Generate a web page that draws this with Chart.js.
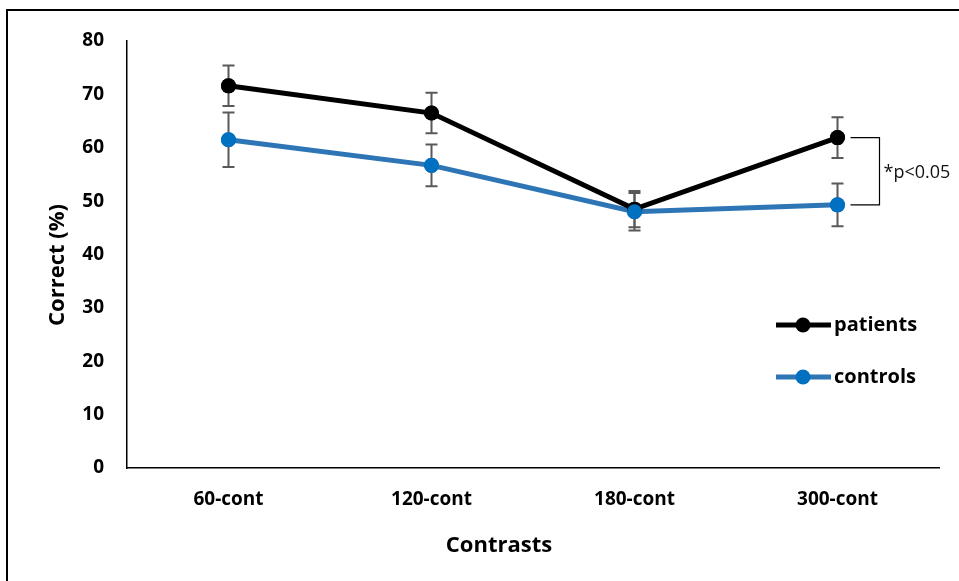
<!DOCTYPE html>
<html>
<head>
<meta charset="utf-8">
<script src="https://cdn.jsdelivr.net/npm/chart.js@4"></script>
<style>
  html, body { margin: 0; padding: 0; background: #fff; }
  #wrap { position: relative; width: 959px; height: 581px; overflow: hidden; }
  #frame { position: absolute; left: 6px; top: 9px; width: 1000px; height: 700px; border-left: 2px solid #000; border-top: 2px solid #000; }
  canvas { position: absolute; left: 0; top: 0; }
</style>
</head>
<body>
<div id="wrap">
  <div id="frame"></div>
  <canvas id="c" width="959" height="581"></canvas>
</div>
<script>
var categories = ['60-cont', '120-cont', '180-cont', '300-cont'];
var patients = [71.6, 66.5, 48.5, 61.9];
var patientsErr = [3.8, 3.8, 3.4, 3.8];
var controls = [61.5, 56.7, 48.0, 49.3];
var controlsErr = [5.1, 3.9, 3.5, 4.0];
var yTicks = [0, 10, 20, 30, 40, 50, 60, 70, 80];
var xTitle = 'Contrasts';
var yTitle = 'Correct (%)';
var sigLabel = '*p<0.05';

var FONT = '"Open Sans", sans-serif';

// error bars, significance bracket, legend, axis titles
var extras = {
  id: 'extras',
  afterDatasetsDraw: function (chart) {
    var ctx = chart.ctx, x = chart.scales.x, y = chart.scales.y;
    ctx.save();
    ctx.strokeStyle = '#595959';
    ctx.lineWidth = 2;
    [[patients, patientsErr], [controls, controlsErr]].forEach(function (s) {
      s[0].forEach(function (v, i) {
        var px = x.getPixelForValue(i);
        var t = y.getPixelForValue(v + s[1][i]), b = y.getPixelForValue(v - s[1][i]);
        ctx.beginPath();
        ctx.moveTo(px, t); ctx.lineTo(px, b);
        ctx.moveTo(px - 6, t); ctx.lineTo(px + 6, t);
        ctx.moveTo(px - 6, b); ctx.lineTo(px + 6, b);
        ctx.stroke();
      });
    });
    // points on top of the error bars
    chart.data.datasets.forEach(function (ds, di) {
      chart.getDatasetMeta(di).data.forEach(function (p) {
        ctx.beginPath();
        ctx.fillStyle = ds.pointBackgroundColor;
        ctx.arc(p.x, p.y, 7.5, 0, Math.PI * 2);
        ctx.fill();
      });
    });

    var last = categories.length - 1;
    var bx = x.getPixelForValue(last);
    var y1 = y.getPixelForValue(patients[last]), y2 = y.getPixelForValue(controls[last]);
    ctx.strokeStyle = '#000';
    ctx.lineWidth = 1.2;
    ctx.beginPath();
    ctx.moveTo(bx + 13, y1); ctx.lineTo(bx + 42, y1); ctx.lineTo(bx + 42, y2); ctx.lineTo(bx + 13, y2);
    ctx.stroke();
    ctx.fillStyle = '#111';
    ctx.font = '18px ' + FONT;
    ctx.textAlign = 'left';
    ctx.textBaseline = 'middle';
    ctx.fillText(sigLabel, bx + 46, (y1 + y2) / 2 + 2);

    // legend
    var lx = 776, ly = [325, 377];
    chart.data.datasets.forEach(function (ds, di) {
      ctx.strokeStyle = ds.borderColor;
      ctx.lineWidth = 5;
      ctx.beginPath();
      ctx.moveTo(lx, ly[di]); ctx.lineTo(lx + 55, ly[di]);
      ctx.stroke();
      ctx.fillStyle = ds.pointBackgroundColor;
      ctx.beginPath();
      ctx.arc(lx + 27, ly[di], 7.5, 0, Math.PI * 2);
      ctx.fill();
      ctx.fillStyle = '#000';
      ctx.font = 'bold 20px ' + FONT;
      ctx.fillText(ds.label, lx + 58, ly[di]);
    });

    // axis titles
    ctx.fillStyle = '#000';
    ctx.font = 'bold 22px ' + FONT;
    ctx.textAlign = 'center';
    ctx.fillText(xTitle, 499, 546);
    ctx.translate(58, 265);
    ctx.rotate(-Math.PI / 2);
    ctx.fillText(yTitle, 0, 0);
    ctx.restore();
  }
};

new Chart(document.getElementById('c'), {
  type: 'line',
  data: {
    labels: categories,
    datasets: [
      { label: 'patients', data: patients, borderColor: '#000000', pointBackgroundColor: '#000000', pointBorderWidth: 0, borderWidth: 5, pointRadius: 7.5 },
      { label: 'controls', data: controls, borderColor: '#2E75B6', pointBackgroundColor: '#0070C0', pointBorderWidth: 0, borderWidth: 5, pointRadius: 7.5 }
    ]
  },
  options: {
    responsive: false,
    animation: false,
    layout: { padding: { left: 0, top: 41, right: 20, bottom: 20 } },
    plugins: { legend: { display: false }, tooltip: { enabled: false } },
    scales: {
      x: {
        offset: true,
        grid: { display: false, drawTicks: false },
        border: { color: '#000', width: 1.5 },
        ticks: { color: '#000', font: { family: FONT, size: 19, weight: 'bold' }, padding: 20 },
        afterFit: function (s) { s.height = 93; }
      },
      y: {
        min: 0, max: 80,
        afterBuildTicks: function (s) { s.ticks = yTicks.map(function (v) { return { value: v }; }); },
        grid: { display: false, drawTicks: false },
        border: { color: '#000', width: 1.5 },
        ticks: { color: '#000', font: { family: FONT, size: 19, weight: 'bold' }, padding: 23 },
        afterFit: function (s) { s.width = 127; }
      }
    }
  },
  plugins: [extras]
});
</script>
</body>
</html>
